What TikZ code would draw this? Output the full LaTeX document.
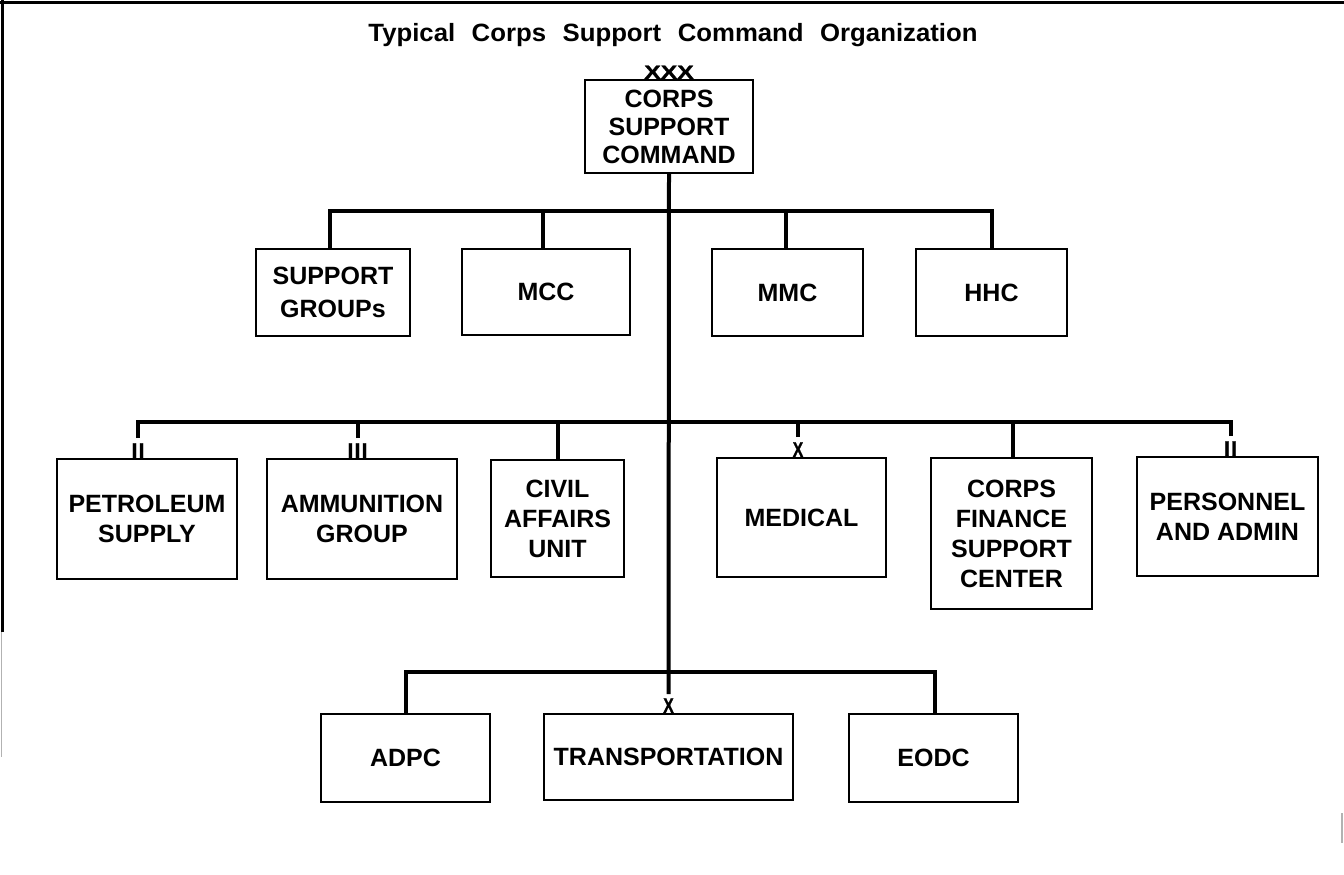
\documentclass[tikz,border=0pt]{standalone}
\usepackage{fontspec}
\setmainfont{Liberation Sans}
\newfontfamily\markfont{Liberation Sans Bold}[FakeBold=1.2]
\usetikzlibrary{calc}
\newcommand{\wsp}{\hspace{16pt}}
\tikzset{
  box/.style={draw, line width=2pt, inner sep=2pt, align=center,
    font=\bfseries\fontsize{25}{30}\selectfont},
  conn/.style={line width=4pt},
  echelon/.style={inner sep=0pt, anchor=south, font=\markfont\fontsize{21}{21}\selectfont},
  framefull/.style={line width=3pt},
  framefaint/.style={line width=1.5pt, black!30},
}
\begin{document}
\begin{tikzpicture}[x=1pt,y=-1pt]
\useasboundingbox (0,0) rectangle (1344,875);
\fill[white] (0,0) rectangle (1344,875);
% frame
\draw[framefull] (0,3) -- (1344,3);
\draw[framefull] (2,0) -- (2,632);
\draw[framefaint] (1.5,632) -- (1.5,757);
\draw[framefaint] (1342,813) -- (1342,843);

% title
\node[anchor=base, inner sep=0pt, font=\bfseries\fontsize{25}{25}\selectfont]
  (title) at (673,42) {\scalebox{1.03}[1]{Typical\wsp Corps\wsp Support\wsp Command\wsp Organization}};

% top
\node[box, minimum width=168pt, minimum height=93pt,
  font=\bfseries\fontsize{25}{28}\selectfont] (corps) at (669,126.5) {CORPS\\SUPPORT\\COMMAND};
\node[echelon] (mcorps) at (corps.north) {\scalebox{1.3}[1]{\fontsize{19}{19}\selectfont XXX}};

% row 1
\node[box, minimum width=154pt, minimum height=87pt,
  font=\bfseries\fontsize{25}{33}\selectfont] (sg)  at (333,292.5) {SUPPORT\\GROUPs};
\node[box, minimum width=168pt, minimum height=86pt] (mcc) at (546,292) {MCC};
\node[box, minimum width=151pt, minimum height=87pt] (mmc) at (787.5,292.5) {MMC};
\node[box, minimum width=151pt, minimum height=87pt] (hhc) at (991.5,292.5) {HHC};

% row 2
\node[box, minimum width=180pt, minimum height=120pt] (pet) at (147,519) {PETROLEUM\\SUPPLY};
\node[box, minimum width=190pt, minimum height=120pt] (amm) at (362,519) {AMMUNITION\\GROUP};
\node[box, minimum width=133pt, minimum height=117pt] (civ) at (557.5,518.5) {CIVIL\\AFFAIRS\\UNIT};
\node[box, minimum width=169pt, minimum height=119pt] (med) at (801.5,517.5) {MEDICAL};
\node[box, minimum width=161pt, minimum height=151pt] (fin) at (1011.5,533.5) {CORPS\\FINANCE\\SUPPORT\\CENTER};
\node[box, minimum width=181pt, minimum height=119pt] (per) at (1227.5,516.5) {PERSONNEL\\AND ADMIN};

% row 3
\node[box, minimum width=169pt, minimum height=88pt] (adpc)  at (405.5,758) {ADPC};
\node[box, minimum width=249pt, minimum height=86pt] (trans) at (668.5,757) {TRANSPORTATION};
\node[box, minimum width=169pt, minimum height=88pt] (eodc)  at (933.5,758) {EODC};

% echelon marks
\node[echelon] (mpet)   at ($(pet.north)+(-9,0)$) {I\kern1.2pt I};
\node[echelon] (mamm)   at ($(amm.north)+(-4.5,0)$) {I\kern1.2pt I\kern1.2pt I};
\node[echelon] (mmed)   at ($(med.north)+(-3.5,0)$) {\scalebox{0.75}[1]{X}};
\node[echelon] (mper)   at ($(per.north)+(3,0)$) {I\kern1.2pt I};
\node[echelon] (mtrans) at (trans.north) {\scalebox{0.75}[1]{X}};

% bus levels
\coordinate (bus1) at (669,211);
\coordinate (bus2) at (669,422);
\coordinate (bus3) at (669,672);

% main trunk
\draw[conn] (corps.south) -- ([yshift=4pt]mtrans.north);

% row 1 connectors
\draw[conn] ($(sg.north)+(-3,0)$) |- (bus1);
\draw[conn] ($(mcc.north)+(-3,0)$) |- (bus1);
\draw[conn] ($(mmc.north)+(-1.5,0)$) |- (bus1);
\draw[conn] (hhc.north) |- (bus1);

% row 2 connectors
\draw[conn] ([yshift=5pt]mpet.north) |- (bus2);
\draw[conn] ([yshift=5pt]mamm.north) |- (bus2);
\draw[conn] (civ.north) |- (bus2);
\draw[conn] ([yshift=5pt]mmed.north) |- (bus2);
\draw[conn] ($(fin.north)+(1.5,0)$) |- (bus2);
\draw[conn] ([yshift=5pt]mper.north) |- (bus2);

% row 3 connectors
\draw[conn] (adpc.north) |- (bus3);
\draw[conn] ($(eodc.north)+(1.5,0)$) |- (bus3);
\end{tikzpicture}
\end{document}
